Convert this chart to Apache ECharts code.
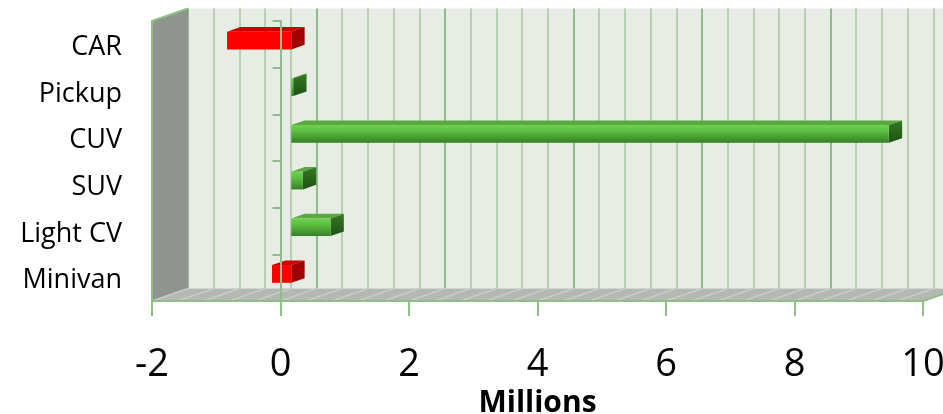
<!DOCTYPE html>
<html>
<head>
<meta charset="utf-8">
<script src="https://cdn.jsdelivr.net/npm/echarts@6/dist/echarts.min.js"></script>
<style>
html,body{margin:0;padding:0;background:#fff}
#main{width:943px;height:414px}
</style>
</head>
<body>
<div id="main"></div>
<script>
// data
var categories = ['CAR', 'Pickup', 'CUV', 'SUV', 'Light CV', 'Minivan'];
var values = [-1.0, 0.03, 9.3, 0.18, 0.61, -0.3];
var xTicks = [-2, 0, 2, 4, 6, 8, 10];

var xMin = xTicks[0];
var xMax = xTicks[xTicks.length - 1];
var xStep = xTicks[1] - xTicks[0];

// 3d look: offset of the back plane from the front plane
var DX = 36, DY = -12.5;
var BAR_FRONT = 0.3, BAR_DEPTH = 0.37;
var green = '#8fbf86';

var myChart = echarts.init(document.getElementById('main'));

function wallsItem(params, api) {
	var cs = params.coordSys;
	var x = cs.x, y = cs.y, w = cs.width, h = cs.height;
	var kids = [];
	// left side wall
	kids.push({type: 'polygon', shape: {points: [[x, y], [x + DX, y + DY], [x + DX, y + h + DY], [x, y + h]]},
		style: {fill: '#8f948f', stroke: null}});
	// floor
	kids.push({type: 'polygon', shape: {points: [[x, y + h], [x + DX, y + h + DY], [x + w + DX, y + h + DY], [x + w, y + h]]},
		style: {fill: '#b4b8b2', stroke: null}});
	var n = Math.round((xMax - xMin) / 0.4);
	for (var i = 0; i <= n; i++) {
		var px = api.coord([xMin + i * 0.4, 0])[0];
		kids.push({type: 'line', shape: {x1: px, y1: y + h, x2: px + DX, y2: y + h + DY},
			style: {stroke: '#c6cec2', lineWidth: 1.5}});
	}
	// edges
	kids.push({type: 'polyline', shape: {points: [[x, y + h], [x, y], [x + DX, y + DY]]},
		style: {stroke: green, lineWidth: 2, fill: null}});
	kids.push({type: 'line', shape: {x1: x + w, y1: y + h, x2: x + w + DX, y2: y + h + DY},
		style: {stroke: green, lineWidth: 2}});
	return {type: 'group', children: kids};
}

function barItem(params, api) {
	var v = api.value(0);
	var p0 = api.coord([0, api.value(1)]);
	var p1 = api.coord([v, api.value(1)]);
	var bh = api.size([0, 1])[1] * 0.38;
	var fx = BAR_FRONT * DX, fy = BAR_FRONT * DY;
	var dx = BAR_DEPTH * DX, dy = BAR_DEPTH * DY;
	var xL = Math.min(p0[0], p1[0]) + fx;
	var xR = Math.max(p0[0], p1[0]) + fx;
	var top = p0[1] + fy - bh / 2;
	var neg = v < 0;
	var front = neg ? '#ff0000' : {type: 'linear', x: 0, y: 0, x2: 0, y2: 1,
		colorStops: [{offset: 0, color: '#6fd052'}, {offset: 0.35, color: '#5cbf40'}, {offset: 1, color: '#357f26'}]};
	var upper = neg ? '#cc0000' : '#5aa83f';
	var side = neg ? '#a00000' : {type: 'linear', x: 0, y: 0, x2: 0, y2: 1,
		colorStops: [{offset: 0, color: '#347a24'}, {offset: 1, color: '#1f5014'}]};
	return {type: 'group', children: [
		{type: 'polygon', shape: {points: [[xL, top], [xL + dx, top + dy], [xR + dx, top + dy], [xR, top]]},
			style: {fill: upper}},
		{type: 'polygon', shape: {points: [[xR, top], [xR + dx, top + dy], [xR + dx, top + bh + dy], [xR, top + bh]]},
			style: {fill: side}},
		{type: 'rect', shape: {x: xL, y: top, width: xR - xL, height: bh},
			style: {fill: front}}
	]};
}

var barData = [];
for (var i = 0; i < values.length; i++) {
	barData.push([values[i], i]);
}

var option = {
	animation: false,
	grid: [
		{left: 152, right: 20, top: 21, bottom: 113, containLabel: false, outerBoundsMode: 'none'},
		{left: 152 + DX, right: 20 - DX, top: 21 + DY, bottom: 113 - DY, containLabel: false, outerBoundsMode: 'none',
			show: true, backgroundColor: '#e7ece5', borderWidth: 0}
	],
	xAxis: [
		{
			type: 'value', gridIndex: 0, min: xMin, max: xMax, interval: xStep, z: 4,
			axisLine: {show: true, onZero: false, lineStyle: {color: green, width: 2}},
			axisTick: {show: true, length: 15, lineStyle: {color: green, width: 2}},
			splitLine: {show: false},
			axisLabel: {color: '#000', fontSize: 38, fontFamily: 'Open Sans', margin: 45},
			name: 'Millions', nameLocation: 'middle', nameGap: 83,
			nameTextStyle: {color: '#000', fontSize: 30, fontWeight: 'bold', fontFamily: 'Open Sans'}
		},
		{
			type: 'value', gridIndex: 1, min: xMin, max: xMax, interval: xStep,
			axisLine: {show: false}, axisTick: {show: false}, axisLabel: {show: false},
			splitLine: {show: true, lineStyle: {color: '#93b98c', width: 2}},
			minorTick: {show: false, splitNumber: 5},
			minorSplitLine: {show: true, lineStyle: {color: '#b8cfb3', width: 2}}
		}
	],
	yAxis: [
		{
			type: 'category', gridIndex: 0, data: categories, inverse: true, z: 4,
			axisLine: {show: true, onZero: true, lineStyle: {color: '#93b98c', width: 2}},
			axisTick: {show: true, length: 8, lineStyle: {color: '#93b98c', width: 2}},
			axisLabel: {
				margin: 30,
				formatter: function (v) { return '{c|' + v + '}'; },
				rich: {c: {color: '#000', fontSize: 27, fontFamily: 'Open Sans', padding: [6, 0, 0, 0]}}
			}
		},
		{
			type: 'category', gridIndex: 1, data: categories, inverse: true, show: false
		}
	],
	series: [
		{
			type: 'custom', name: 'walls', xAxisIndex: 0, yAxisIndex: 0, z: 1, silent: true,
			renderItem: wallsItem, data: [[0, 0]]
		},
		{
			type: 'custom', name: 'bars', xAxisIndex: 0, yAxisIndex: 0, z: 3,
			renderItem: barItem, data: barData, encode: {x: 0, y: 1}
		}
	]
};
myChart.setOption(option);
</script>
</body>
</html>
